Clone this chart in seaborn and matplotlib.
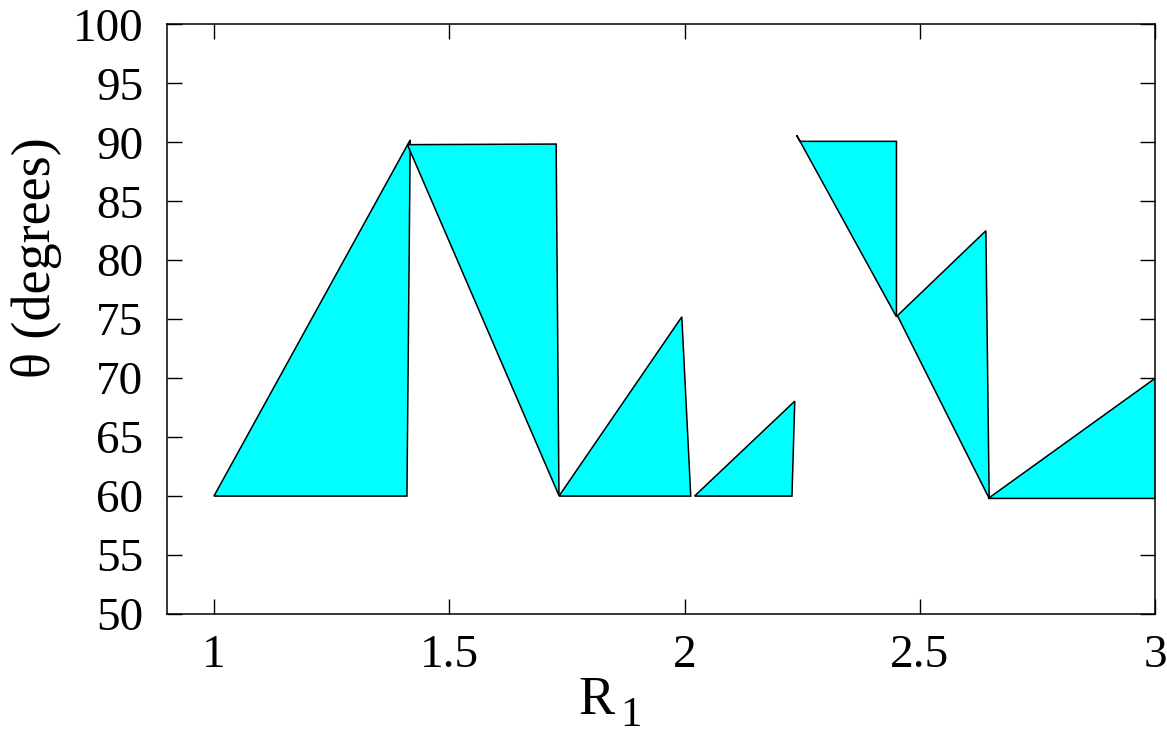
import matplotlib
matplotlib.use("Agg")
import matplotlib.pyplot as plt
import seaborn as sns

# Allowed (R1, theta) regions, one polygon per piece
region_a_r = [1.000, 1.417, 1.410]
region_a_t = [60.0, 90.2, 60.0]

region_b_r = [1.411, 1.727, 1.733]
region_b_t = [89.8, 89.85, 60.05]

region_c_r = [1.733, 1.994, 2.013]
region_c_t = [60.0, 75.2, 60.0]

region_d_r = [2.021, 2.234, 2.228]
region_d_t = [60.0, 68.05, 60.0]

region_e_r = [2.238, 2.245, 2.450, 2.450]
region_e_t = [90.6, 90.08, 90.08, 75.2]

region_f_r = [2.452, 2.640, 2.647]
region_f_t = [75.3, 82.5, 59.8]

region_g_r = [2.645, 3.000, 3.000]
region_g_t = [59.8, 70.0, 59.8]

regions = [
    (region_a_r, region_a_t),
    (region_b_r, region_b_t),
    (region_c_r, region_c_t),
    (region_d_r, region_d_t),
    (region_e_r, region_e_t),
    (region_f_r, region_f_t),
    (region_g_r, region_g_t),
]

x_ticks = [1, 1.5, 2, 2.5, 3]
x_tick_labels = ["1", "1.5", "2", "2.5", "3"]
y_ticks = list(range(50, 101, 5))

sns.set_theme(style="ticks")
plt.rcParams["font.family"] = ["Liberation Serif", "DejaVu Serif"]

fig = plt.figure(figsize=(11.67, 7.38), dpi=100)
ax = fig.add_axes([0.143, 0.168, 0.847, 0.799])

for rr, tt in regions:
    ax.fill(rr, tt, facecolor="#00FFFF", edgecolor="black", linewidth=1.1,
            joinstyle="miter", clip_on=True)

ax.set_xlim(0.9, 3.0)
ax.set_ylim(50, 100)
ax.set_xticks(x_ticks)
ax.set_xticklabels(x_tick_labels)
ax.set_yticks(y_ticks)

ax.tick_params(axis="both", direction="in", length=11, width=1.0,
               top=True, right=True, labelsize=34, colors="black")
ax.tick_params(axis="x", pad=15)
ax.tick_params(axis="y", pad=17)
for side in ax.spines.values():
    side.set_linewidth(1.1)
    side.set_color("black")

ax.set_ylabel("θ (degrees)", fontsize=39, color="black")
ax.yaxis.set_label_coords(-0.106, 0.605)
ax.set_xlabel("R", fontsize=39, color="black")
ax.xaxis.set_label_coords(0.435, -0.105)
ax.text(0.47, -0.172, "1", transform=ax.transAxes, fontsize=31,
        ha="center", va="center", color="black")

fig.savefig("out.png", dpi=100, facecolor="white")
